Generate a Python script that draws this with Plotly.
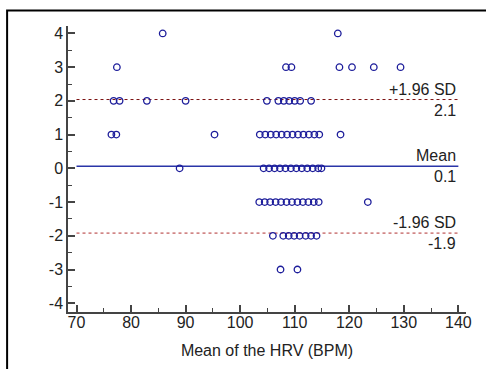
import plotly.graph_objects as go

# Bland-Altman data (mean of HRV, difference)
x_y4 = [85.8, 117.9]
x_y3 = [77.4, 108.4, 109.4, 118.2, 120.5, 124.5, 129.4]
x_y2 = [76.8, 77.9, 82.9, 90.0, 104.9, 107.0, 108.0, 109.0, 110.0, 111.0, 113.0]
x_y1 = [76.4, 77.3, 95.3, 103.6, 104.6, 105.6, 106.6, 107.6, 108.6, 109.6, 110.6, 111.6, 112.6, 113.6, 114.5, 118.4]
x_y0 = [88.9, 104.3, 105.3, 106.3, 107.3, 108.3, 109.3, 110.3, 111.3, 112.3, 113.3, 114.3, 114.9]
x_ym1 = [103.5, 104.5, 105.5, 106.5, 107.5, 108.5, 109.5, 110.5, 111.5, 112.5, 113.5, 114.4, 123.4]
x_ym2 = [106.0, 107.9, 108.9, 109.9, 110.9, 112.0, 113.0, 114.0]
x_ym3 = [107.4, 110.5]

mean_diff = 0.06
upper_loa = 2.04
lower_loa = -1.92
mean_label = "0.1"
upper_label = "2.1"
lower_label = "-1.9"

x_ticks = [70, 80, 90, 100, 110, 120, 130, 140]
y_ticks = [-4, -3, -2, -1, 0, 1, 2, 3, 4]
y_ticktext = ["-4", "-3", "-2", "-1", "0", "1", "2", "3", "4"]

xs, ys = [], []
for val, arr in [(4, x_y4), (3, x_y3), (2, x_y2), (1, x_y1), (0, x_y0),
                 (-1, x_ym1), (-2, x_ym2), (-3, x_ym3)]:
    xs += arr
    ys += [val] * len(arr)

fig = go.Figure()
fig.add_trace(go.Scatter(
    x=[70, 140], y=[mean_diff, mean_diff], mode="lines",
    line=dict(color="#2a35a8", width=1.6), hoverinfo="skip"))
fig.add_trace(go.Scatter(
    x=[70, 140], y=[upper_loa, upper_loa], mode="lines",
    line=dict(color="#7a1010", width=1, dash="dot"), hoverinfo="skip"))
fig.add_trace(go.Scatter(
    x=[70, 140], y=[lower_loa, lower_loa], mode="lines",
    line=dict(color="#b03030", width=1, dash="dot"), hoverinfo="skip"))
fig.add_trace(go.Scatter(
    x=xs, y=ys, mode="markers",
    marker=dict(symbol="circle-open", size=6.5, color="#1c1c9a",
                line=dict(width=1.3, color="#1c1c9a"))))

font = dict(family="Liberation Sans, Arial", size=16, color="#222222")
for yv, top, bot in [(upper_loa, "+1.96 SD", upper_label),
                     (mean_diff, "Mean", mean_label),
                     (lower_loa, "-1.96 SD", lower_label)]:
    fig.add_annotation(x=140, y=yv, text=top, showarrow=False,
                       xanchor="right", yanchor="bottom", yshift=0, font=font)
    fig.add_annotation(x=140, y=yv, text=bot, showarrow=False,
                       xanchor="right", yanchor="top", yshift=0, font=font)

fig.add_shape(type="rect", xref="paper", yref="paper",
              x0=-0.153, x1=1.3, y0=-0.6, y1=1.054,
              line=dict(color="black", width=2))

fig.update_layout(
    width=486, height=369,
    margin=dict(l=67.5, r=20, t=26, b=57),
    paper_bgcolor="white", plot_bgcolor="white",
    showlegend=False, font=font,
    xaxis=dict(range=[68.44, 141.4], tickvals=x_ticks,
               ticks="inside", ticklen=7, tickwidth=1.5, tickcolor="#444",
               showline=True, linecolor="#444", linewidth=1.5,
               showgrid=False, zeroline=False, ticklabelstandoff=-5,
               minor=dict(tickvals=[75, 85, 95, 105, 115, 125, 135], ticks="inside",
                          ticklen=4, tickcolor="#444", tickwidth=1.2),
               title=dict(text="Mean of the HRV (BPM)", font=font, standoff=15),
               tickfont=font),
    yaxis=dict(range=[-4.26, 4.22], tickvals=y_ticks, ticktext=y_ticktext,
               ticks="inside", ticklen=7, tickwidth=1.5, tickcolor="#444",
               showline=True, linecolor="#444", linewidth=1.5,
               showgrid=False, zeroline=False,
               minor=dict(tickvals=[-3.5, -2.5, -1.5, -0.5, 0.5, 1.5, 2.5, 3.5],
                          ticks="inside", ticklen=4, tickcolor="#444", tickwidth=1.2),
               tickfont=font),
)

fig.write_html("out.html")
